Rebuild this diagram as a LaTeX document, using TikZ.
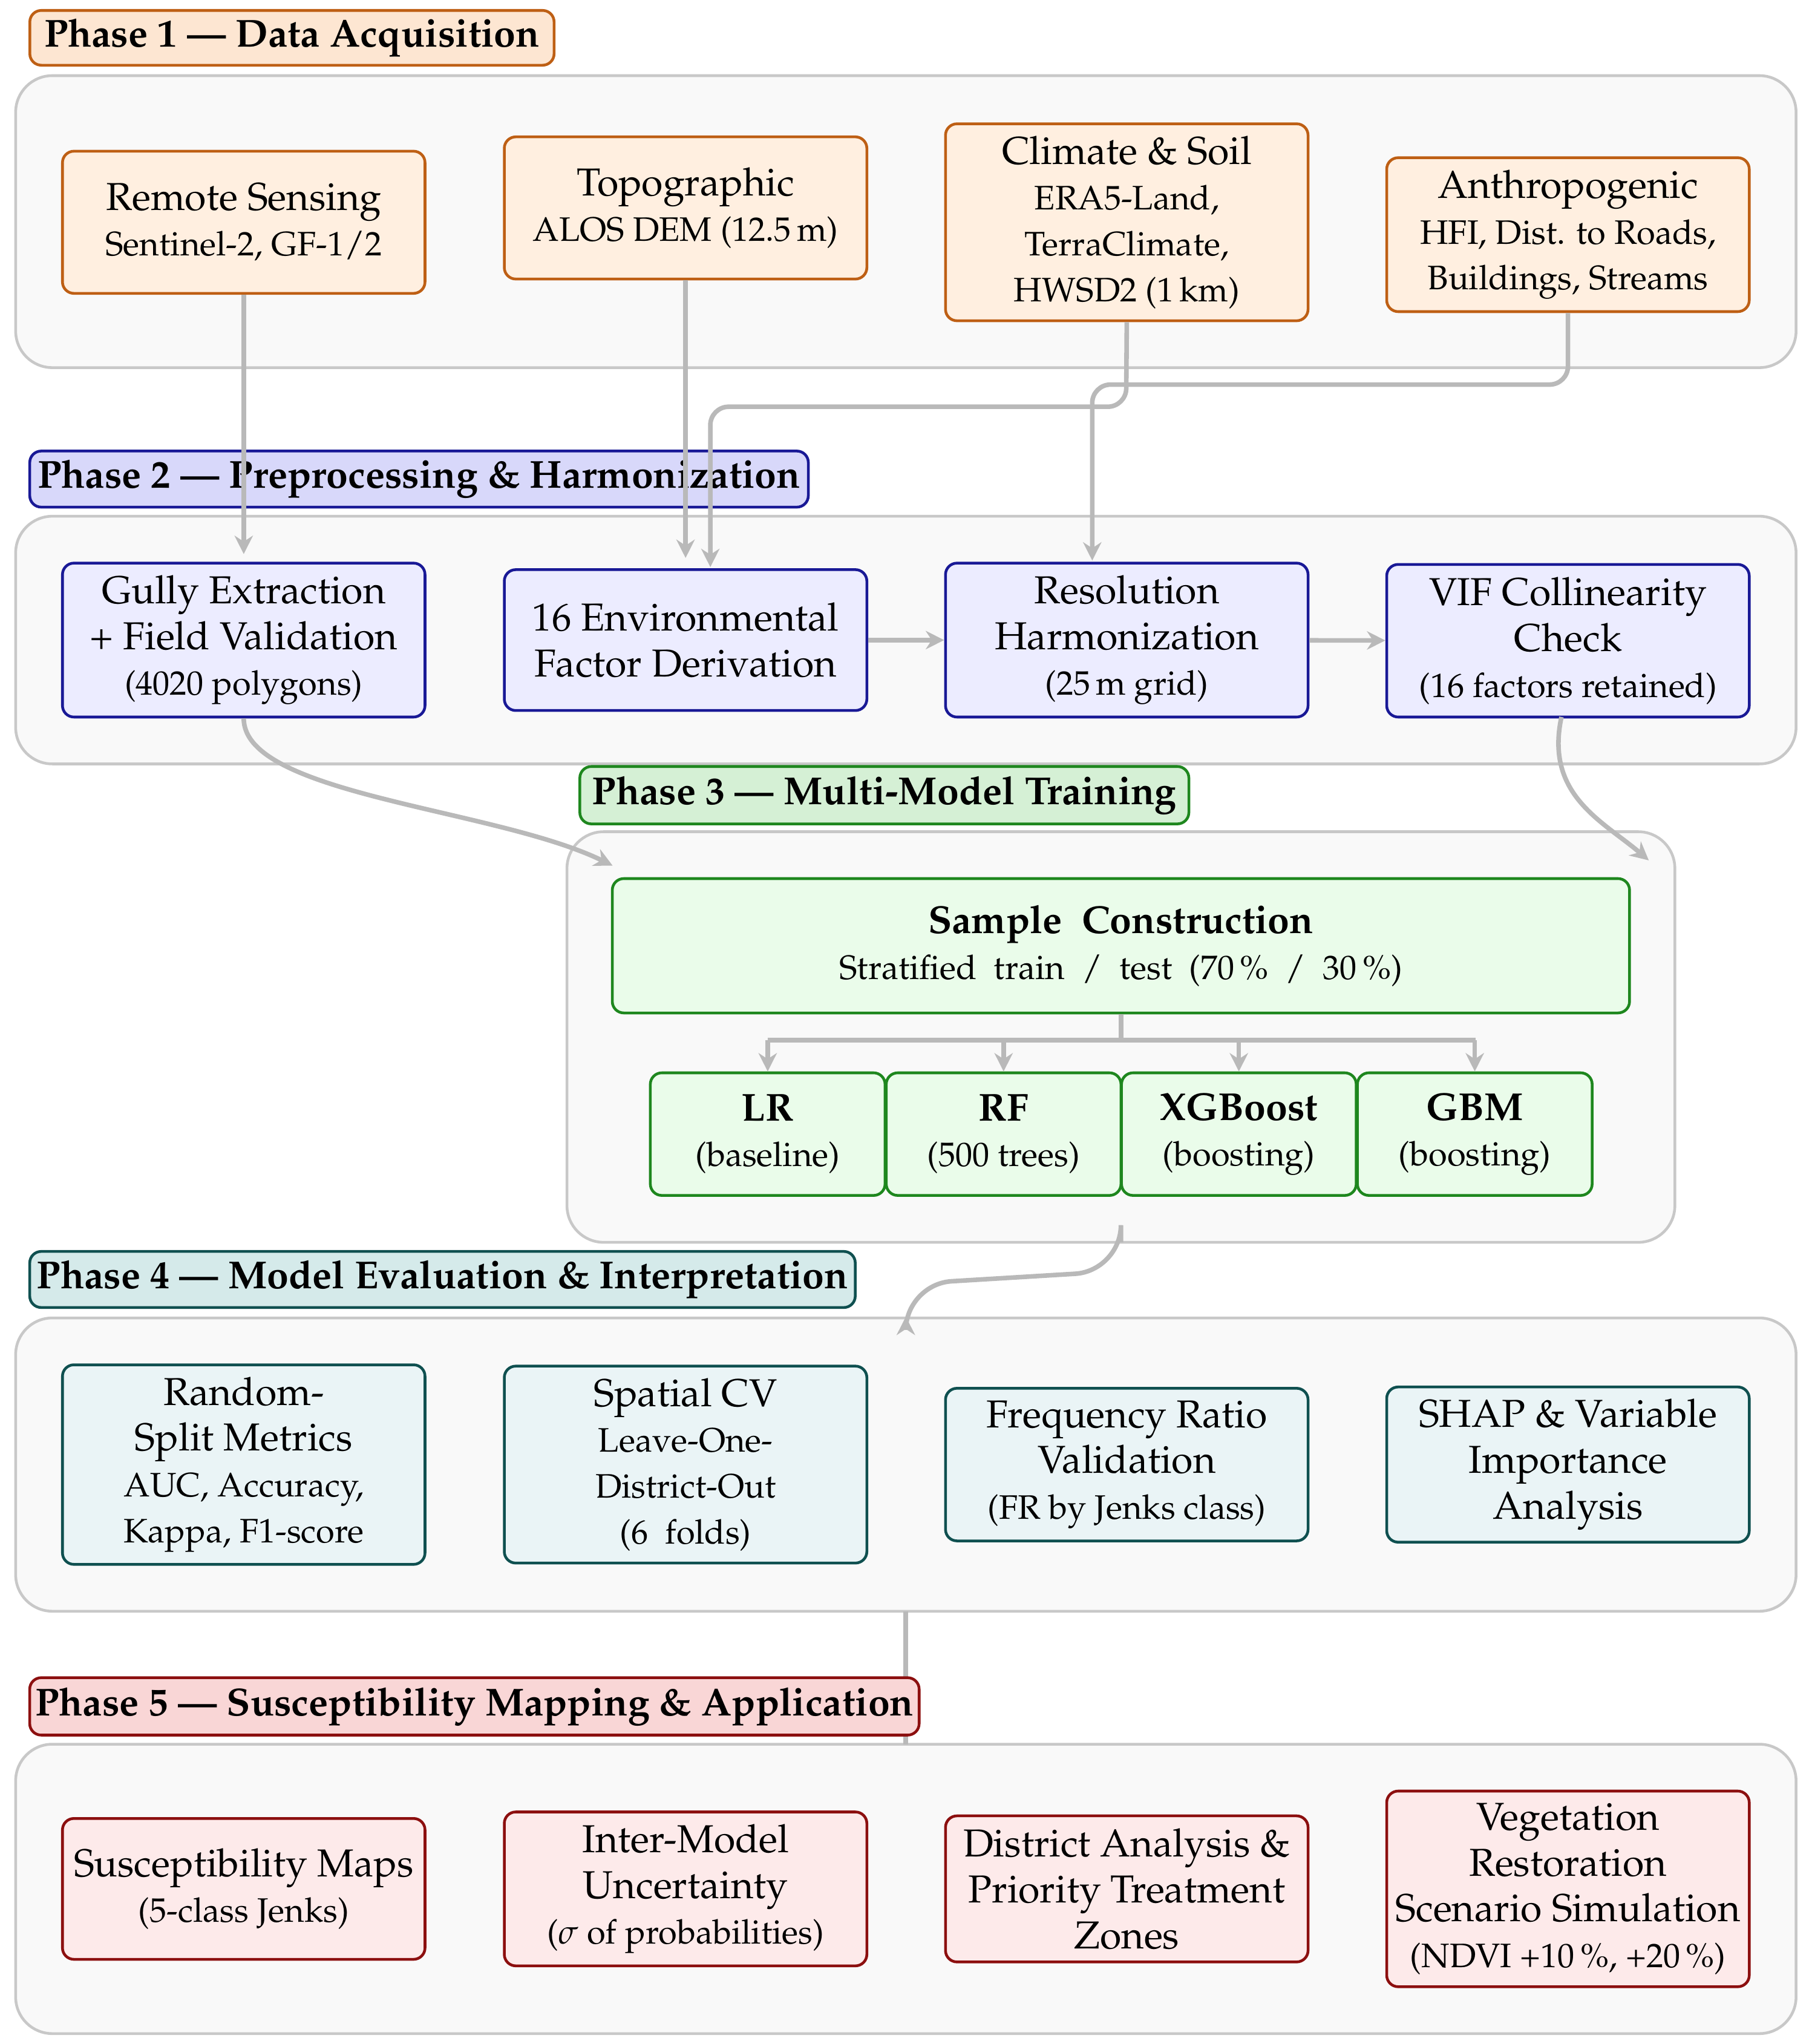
\documentclass[tikz,border=0pt]{standalone}
\usepackage[T1]{fontenc}
\usepackage{mathpazo}
\usepackage{tikz}
\usetikzlibrary{arrows.meta, positioning}
\definecolor{panelgray}{RGB}{249, 249, 249}
\definecolor{panelline}{RGB}{200, 200, 200}
\definecolor{flowgray}{RGB}{185, 185, 185}
\definecolor{acqline}{RGB}{190, 95, 20}
\definecolor{acqfill}{RGB}{255, 239, 224}
\definecolor{acqlab}{RGB}{253, 230, 210}
\definecolor{preline}{RGB}{25, 25, 150}
\definecolor{prefill}{RGB}{236, 236, 255}
\definecolor{prelab}{RGB}{216, 216, 250}
\definecolor{trnline}{RGB}{30, 135, 30}
\definecolor{trnfill}{RGB}{234, 252, 234}
\definecolor{trnlab}{RGB}{213, 240, 213}
\definecolor{evaline}{RGB}{15, 80, 80}
\definecolor{evafill}{RGB}{234, 244, 246}
\definecolor{evalab}{RGB}{213, 234, 234}
\definecolor{mapline}{RGB}{140, 15, 15}
\definecolor{mapfill}{RGB}{253, 234, 234}
\definecolor{maplab}{RGB}{249, 214, 214}

\tikzset{
  panel/.style={draw=panelline, fill=panelgray, rounded corners=8pt, line width=0.6pt},
  phaselab/.style={rounded corners=2.5pt, line width=0.6pt, font=\fontsize{8.5}{10}\selectfont\bfseries, inner sep=0pt},
  stagebox/.style={rounded corners=2.5pt, line width=0.6pt, align=center, minimum width=2.78cm,
    font=\fontsize{8.5}{10}\selectfont, inner sep=0pt},
  flow/.style={flowgray, line width=1pt, -{Stealth[length=4pt, width=4pt]}},
}
\newcommand{\sub}[1]{{\fontsize{7.4}{10}\selectfont #1}}

\begin{document}
\begin{tikzpicture}[x=0.01cm, y=-0.01cm]
  \useasboundingbox (0,0) rectangle (1390,1568);

  % Panels
  \draw[panel] (12,58) rectangle (1378,282);
  \draw[panel] (12,396) rectangle (1378,586);
  \draw[panel] (435,638) rectangle (1285,953);
  \draw[panel] (12,1011) rectangle (1378,1236);
  \draw[panel] (12,1338) rectangle (1378,1560);

  % Link phase 4 -> phase 5 (under the label)
  \draw[flowgray, line width=1pt] (695,1236) -- (695,1338);

  % Phase labels
  \node[phaselab, draw=acqline, fill=acqlab, minimum width=4.02cm, minimum height=0.42cm] (lab1) at (224,29) {Phase 1 --- Data Acquisition};
  \node[phaselab, draw=preline, fill=prelab, minimum width=5.97cm, minimum height=0.43cm] (lab2) at (321.5,367.5) {Phase 2 --- Preprocessing \& Harmonization};
  \node[phaselab, draw=trnline, fill=trnlab, minimum width=4.67cm, minimum height=0.44cm] (lab3) at (678.5,610) {Phase 3 --- Multi-Model Training};
  \node[phaselab, draw=evaline, fill=evalab, minimum width=6.33cm, minimum height=0.43cm] (lab4) at (339.5,981.5) {Phase 4 --- Model Evaluation \& Interpretation};
  \node[phaselab, draw=mapline, fill=maplab, minimum width=6.82cm, minimum height=0.44cm] (lab5) at (364,1309) {Phase 5 --- Susceptibility Mapping \& Application};

  % Phase 1
  \node[stagebox, draw=acqline, fill=acqfill, minimum height=1.09cm] (rs) at (187,170.5) {Remote Sensing\\\sub{Sentinel-2, GF-1/2}};
  \node[stagebox, draw=acqline, fill=acqfill, minimum height=1.09cm] (topo) at (526,159.5) {Topographic\\\sub{ALOS DEM (12.5\,m)}};
  \node[stagebox, draw=acqline, fill=acqfill, minimum height=1.51cm] (clim) at (864.5,170.5) {Climate \& Soil\\\sub{ERA5-Land,}\\\sub{TerraClimate,}\\\sub{HWSD2 (1\,km)}};
  \node[stagebox, draw=acqline, fill=acqfill, minimum height=1.18cm] (anth) at (1203,180) {Anthropogenic\\\sub{HFI, Dist. to Roads,}\\\sub{Buildings, Streams}};

  % Phase 2
  \node[stagebox, draw=preline, fill=prefill, minimum height=1.18cm] (gully) at (187,491) {Gully Extraction\\+ Field Validation\\\sub{(4020 polygons)}};
  \node[stagebox, draw=preline, fill=prefill, minimum height=1.08cm] (env) at (526,491) {16 Environmental\\Factor Derivation};
  \node[stagebox, draw=preline, fill=prefill, minimum height=1.18cm] (res) at (864.5,491) {Resolution\\Harmonization\\\sub{(25\,m grid)}};
  \node[stagebox, draw=preline, fill=prefill, minimum height=1.17cm] (vif) at (1203,491.5) {VIF Collinearity\\Check\\\sub{(16 factors retained)}};

  % Phase 3
  \node[stagebox, draw=trnline, fill=trnfill, minimum width=7.8cm, minimum height=1.03cm] (sample) at (860,725.5) {\textbf{Sample \ Construction}\\\sub{Stratified \ train \ / \ test \ (70\,\% \ / \ 30\,\%)}};
  \node[stagebox, draw=trnline, fill=trnfill, minimum width=1.8cm, minimum height=0.94cm] (lr) at (589,870) {\textbf{LR}\\\sub{(baseline)}};
  \node[stagebox, draw=trnline, fill=trnfill, minimum width=1.8cm, minimum height=0.94cm] (rf) at (770,870) {\textbf{RF}\\\sub{(500 trees)}};
  \node[stagebox, draw=trnline, fill=trnfill, minimum width=1.8cm, minimum height=0.94cm] (xgb) at (950.5,870) {\textbf{XGBoost}\\\sub{(boosting)}};
  \node[stagebox, draw=trnline, fill=trnfill, minimum width=1.8cm, minimum height=0.94cm] (gbm) at (1131.5,870) {\textbf{GBM}\\\sub{(boosting)}};

  % Phase 4
  \node[stagebox, draw=evaline, fill=evafill, minimum height=1.53cm] (rand) at (187,1123.5) {Random-\\Split Metrics\\\sub{AUC, Accuracy,}\\\sub{Kappa, F1-score}};
  \node[stagebox, draw=evaline, fill=evafill, minimum height=1.51cm] (scv) at (526,1123.5) {Spatial CV\\\sub{Leave-One-}\\\sub{District-Out}\\\sub{(6 \ folds)}};
  \node[stagebox, draw=evaline, fill=evafill, minimum height=1.17cm] (fr) at (864.5,1123.5) {Frequency Ratio\\Validation\\\sub{(FR by Jenks class)}};
  \node[stagebox, draw=evaline, fill=evafill, minimum height=1.19cm] (shap) at (1203,1123.5) {SHAP \& Variable\\Importance\\Analysis};

  % Phase 5
  \node[stagebox, draw=mapline, fill=mapfill, minimum height=1.08cm] (susc) at (187,1449) {Susceptibility Maps\\\sub{(5-class Jenks)}};
  \node[stagebox, draw=mapline, fill=mapfill, minimum height=1.18cm] (unc) at (526,1449) {Inter-Model\\Uncertainty\\\sub{($\sigma$ of probabilities)}};
  \node[stagebox, draw=mapline, fill=mapfill, minimum height=1.12cm] (dist) at (864.5,1449) {District Analysis \&\\Priority Treatment\\Zones};
  \node[stagebox, draw=mapline, fill=mapfill, minimum height=1.5cm] (veg) at (1203,1449) {Vegetation\\Restoration\\Scenario Simulation\\\sub{(NDVI +10\,\%, +20\,\%)}};

  % Connector ends
  \coordinate (p3in) at (470,664);
  \coordinate (p3inr) at (1265,660);
  \coordinate (p4in) at (695,1010);

  % Phase 1 -> Phase 2
  \draw[flow] (rs.south) -- (187,425);
  \draw[flow] (topo.south) -- (526,428);
  \draw[flow, rounded corners=4pt] (clim.south) -- (864,312) -- (545,312) -- (545,435);
  \draw[flow, rounded corners=4pt] (anth.south) -- (1203,295) -- (838,295) -- (838,430);
  \draw[flow] (env) -- (res);
  \draw[flow] (res) -- (vif);

  % Phase 2 -> Phase 3
  \draw[flow] (gully.south) .. controls (187,610) and (380,620) .. (p3in);
  \draw[flow] (1198,550) .. controls (1185,610) and (1230,630) .. (p3inr);

  % Sample -> models
  \draw[flowgray, line width=1pt] (sample.south) -- (860,798);
  \draw[flowgray, line width=1pt] (589,798) -- (1132,798);
  \foreach \m in {lr, rf, xgb, gbm}
    \draw[flow] (\m.north |- 0,798) -- (\m.north);

  % Phase 3 -> Phase 4
  \draw[flow, rounded corners=10pt] (860,953) -- (860,975) -- (695,985) -- (p4in);
\end{tikzpicture}
\end{document}
